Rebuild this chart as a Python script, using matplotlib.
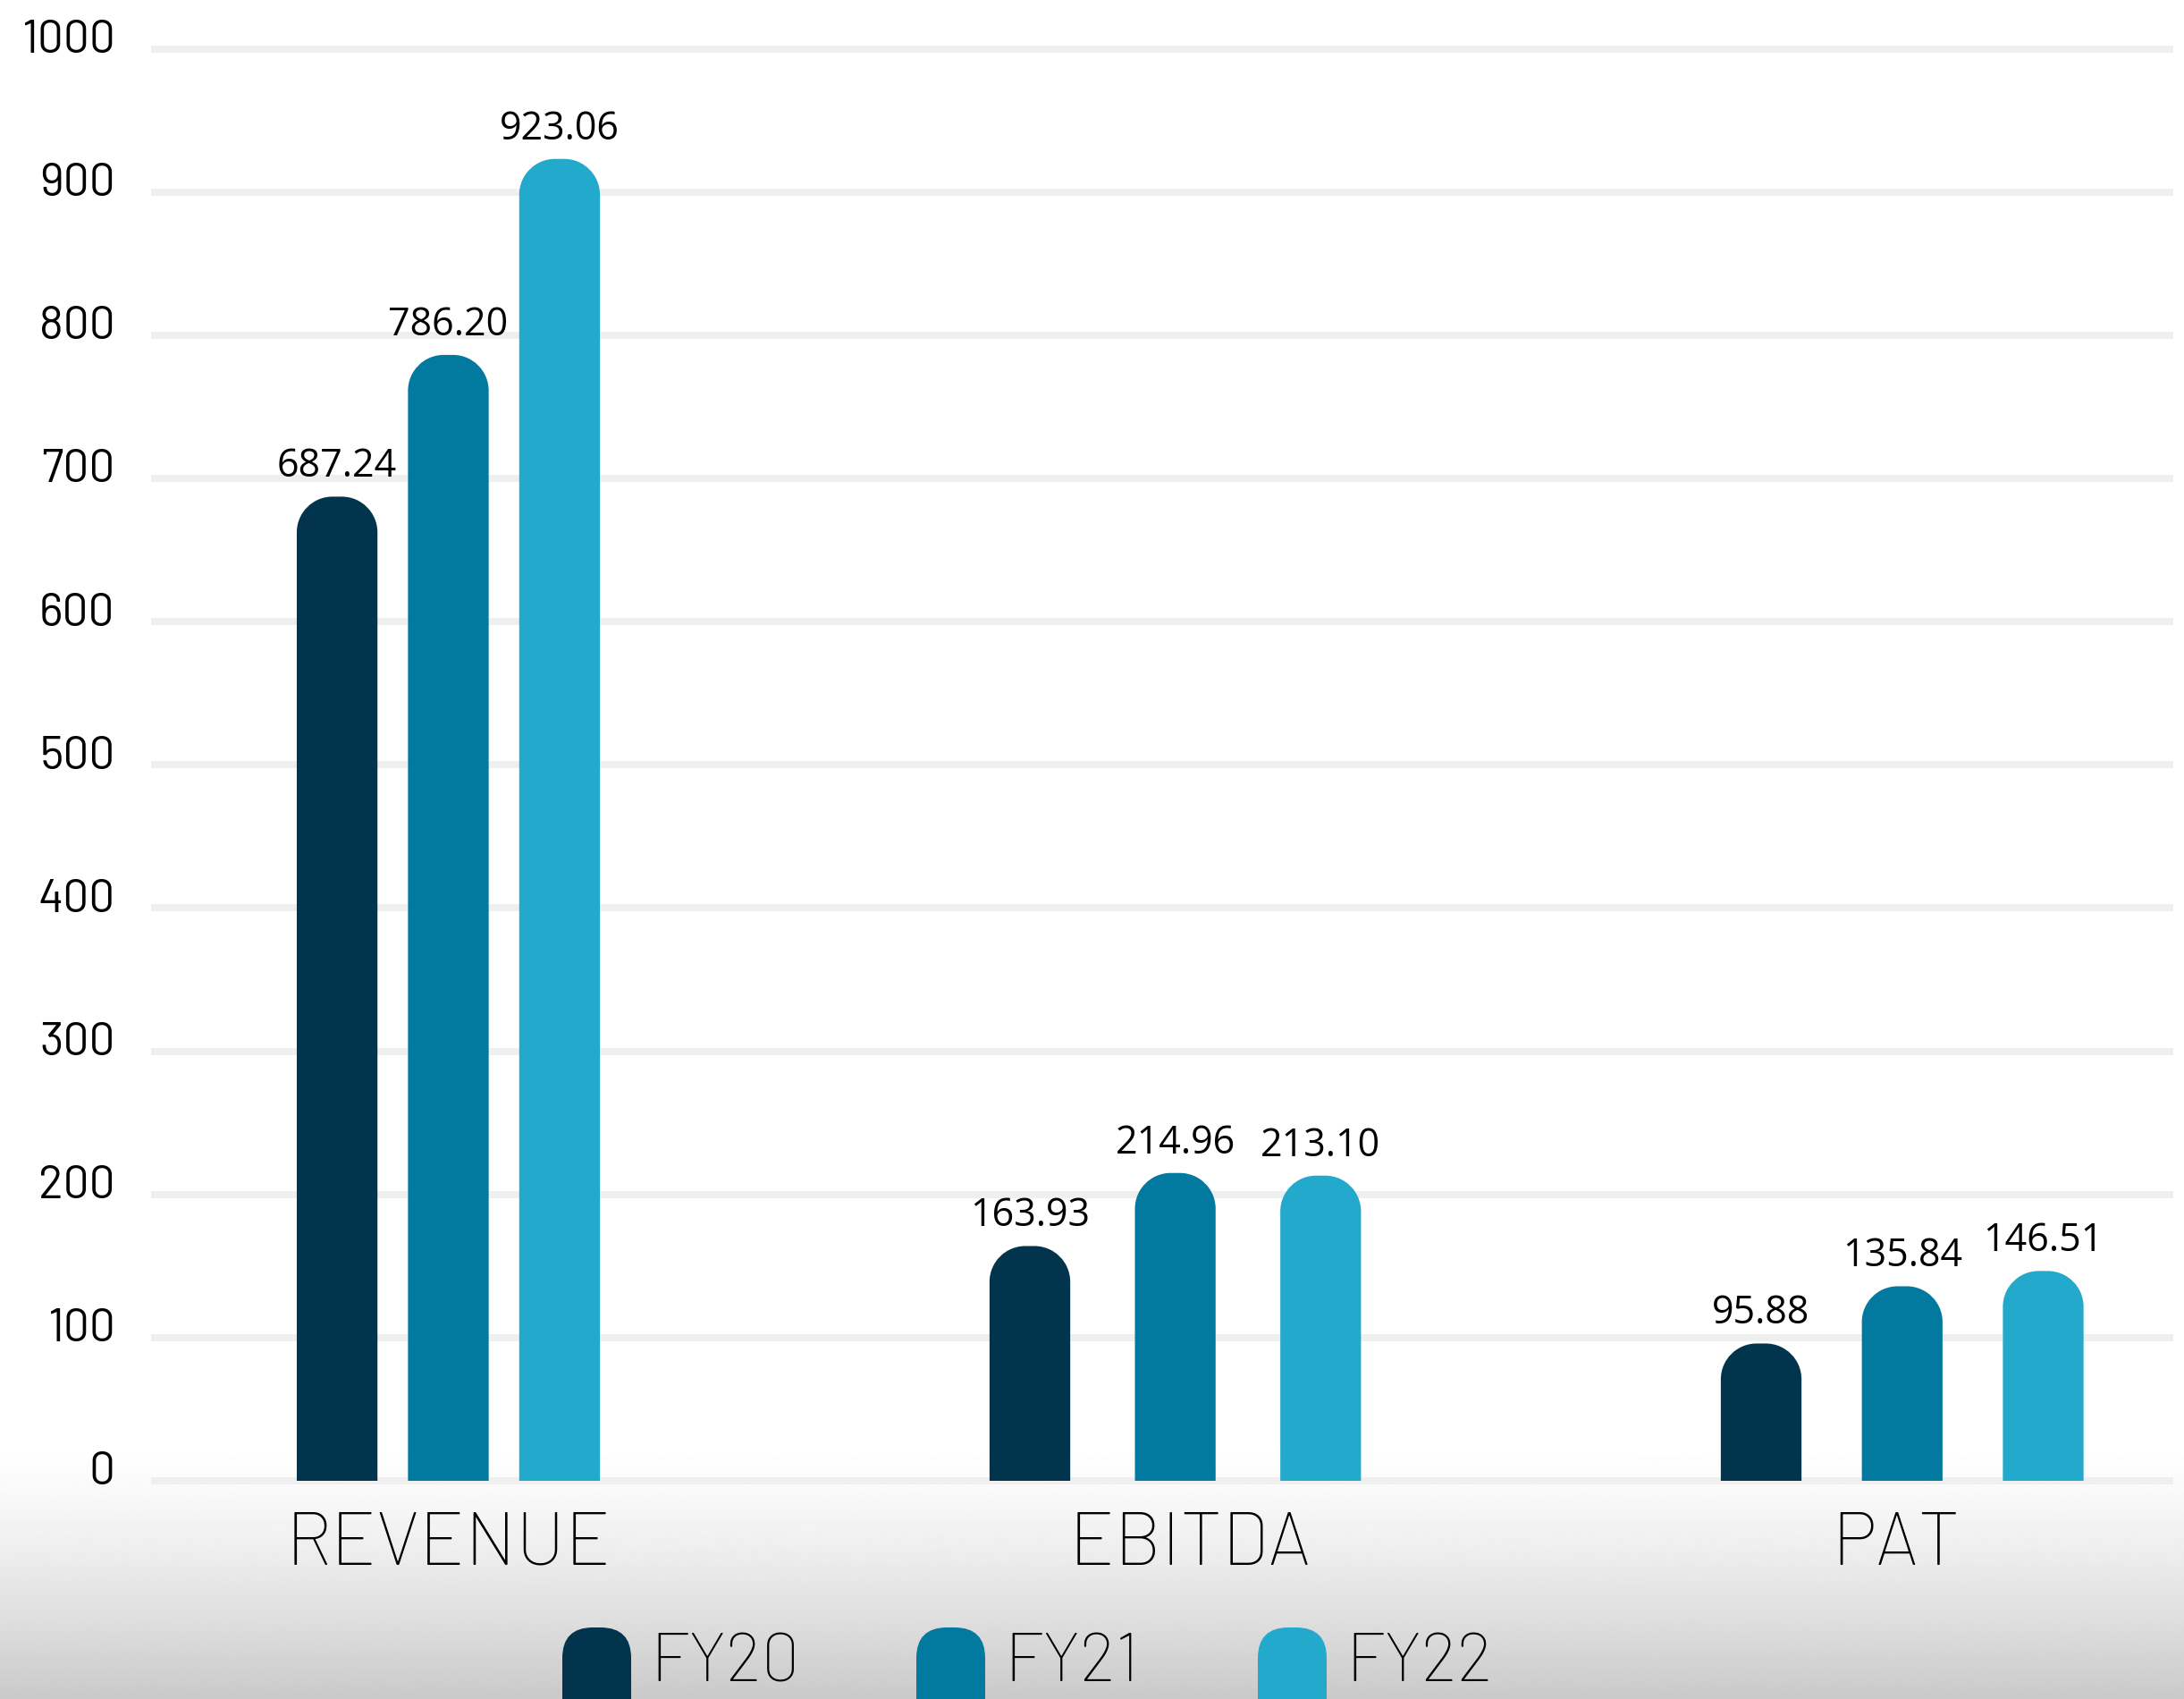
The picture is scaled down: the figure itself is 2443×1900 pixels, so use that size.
import numpy as np
import matplotlib
matplotlib.use("Agg")
import matplotlib.pyplot as plt
from matplotlib.patches import FancyBboxPatch, PathPatch
from matplotlib.path import Path
import matplotlib.transforms as mtransforms
import logging
logging.getLogger("matplotlib.font_manager").setLevel(logging.ERROR)

# ---- data ----
categories = ["REVENUE", "EBITDA", "PAT"]
series_names = ["FY20", "FY21", "FY22"]
fy20 = [687.24, 163.93, 95.88]
fy21 = [786.20, 214.96, 135.84]
fy22 = [923.06, 213.10, 146.51]
value_labels = [["687.24", "163.93", "95.88"],
                ["786.20", "214.96", "135.84"],
                ["923.06", "213.10", "146.51"]]
y_ticks = [0, 100, 200, 300, 400, 500, 600, 700, 800, 900, 1000]

# ---- style ----
colors = ["#02354d", "#02799e", "#23a9cb"]
group_spacing = [0.153, 0.200, 0.194]   # spacing between bars inside each group
label_shift = [0.0, 0.02, -0.008]       # small shift of category labels
bar_width = 0.111
W, H = 2443, 1900
DPI = 100

cond_font = ['Barlow', 'Roboto', 'DejaVu Sans']
val_font = ['Open Sans', 'DejaVu Sans']
plt.rcParams['font.family'] = cond_font

fig = plt.figure(figsize=(W / DPI, H / DPI), dpi=DPI)
fig.patch.set_facecolor("white")

# background gradient at the bottom
bg = fig.add_axes([0, 0, 1, (1900 - 1615) / H], zorder=0)
t = np.linspace(0, 1, 256)
shade = 1.0 - (1.0 - 0.79) * (t ** 1.3)
grad = np.tile(shade[:, None], (1, 2))
bg.imshow(grad[::-1], aspect="auto", cmap="gray", vmin=0, vmax=1,
          extent=[0, 1, 0, 1], origin="lower")
bg.axis("off")

# main axes
left_px, right_px = 173, 2427
top_px, bot_px = 54.5, 1656
ax = fig.add_axes([left_px / W, 1 - bot_px / H, (right_px - left_px) / W,
                   (bot_px - top_px) / H], zorder=1)
ax.patch.set_alpha(0)
ax.set_xlim(-0.404, 2.368)
ax.set_ylim(0, 1000)
for s in ax.spines.values():
    s.set_visible(False)

# gridlines
for yv in y_ticks:
    ax.axhline(yv, color="#efefef", lw=8 * 72 / DPI, zorder=1, clip_on=False)

# y tick labels
ax.set_yticks(y_ticks)
ax.set_yticklabels([str(v) for v in y_ticks], fontsize=37, fontweight="normal",
                   color="#000000")
ax.tick_params(axis="y", length=0, pad=32)
off = mtransforms.ScaledTranslation(0, 14 / DPI, fig.dpi_scale_trans)
for lab in ax.get_yticklabels():
    lab.set_transform(lab.get_transform() + off)
ax.set_xticks([])

# compute scale for rounded tops
fig.canvas.draw()
bbox = ax.get_window_extent()
px_per_x = bbox.width / (ax.get_xlim()[1] - ax.get_xlim()[0])
px_per_y = bbox.height / (ax.get_ylim()[1] - ax.get_ylim()[0])
r_px = 40
rx = r_px / px_per_x
ry = r_px / px_per_y
k = 0.5523


def rounded_bar(x0, w, h):
    x1 = x0 + w
    verts = [(x0, 0), (x0, h - ry),
             (x0, h - ry + k * ry), (x0 + rx - k * rx, h), (x0 + rx, h),
             (x1 - rx, h),
             (x1 - rx + k * rx, h), (x1, h - ry + k * ry), (x1, h - ry),
             (x1, 0), (x0, 0)]
    codes = [Path.MOVETO, Path.LINETO,
             Path.CURVE4, Path.CURVE4, Path.CURVE4,
             Path.LINETO,
             Path.CURVE4, Path.CURVE4, Path.CURVE4,
             Path.LINETO, Path.CLOSEPOLY]
    return Path(verts, codes)


series = [fy20, fy21, fy22]
for si, vals in enumerate(series):
    for ci, v in enumerate(vals):
        xc = ci + (si - 1) * group_spacing[ci]
        x0 = xc - bar_width / 2
        ax.add_patch(PathPatch(rounded_bar(x0, bar_width, v), fc=colors[si],
                               ec="none", zorder=3))
        ax.annotate(value_labels[si][ci], (xc, v), xytext=(0, 8),
                    textcoords="offset points", ha="center", va="bottom",
                    fontsize=31, family=val_font,
                    color="#000000", zorder=4)

# category labels
for ci, name in enumerate(categories):
    fig.text((left_px + (ci + label_shift[ci] + 0.404) * px_per_x) / W,
             1 - 1729 / H, name, ha="center", va="center", fontsize=60,
             fontweight="light", color="#000000")

# legend
leg_marker_x = [629, 1025, 1407]
for si, name in enumerate(series_names):
    mx = leg_marker_x[si]
    lp = FancyBboxPatch((mx / W, 1 - 1945 / H), 77 / W, 125 / H,
                        boxstyle="round,pad=0,rounding_size=0.014",
                        mutation_aspect=W / H,
                        transform=fig.transFigure, fc=colors[si], ec="none",
                        zorder=5)
    fig.add_artist(lp)
    fig.text((mx + 98) / W, 1 - 1861 / H, name, ha="left", va="center",
             fontsize=55, fontweight="light", color="#000000", zorder=6)

fig.savefig("out.png", dpi=DPI)
